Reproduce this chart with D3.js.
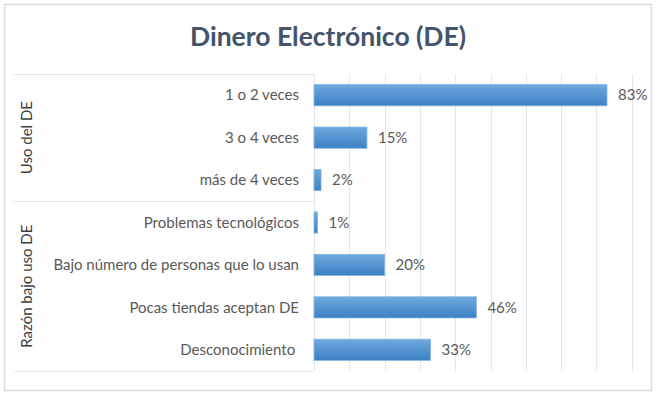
<!DOCTYPE html>
<html>
<head>
<meta charset="utf-8">
<script src="https://cdn.jsdelivr.net/npm/d3@7"></script>
<style>
  body { margin: 0; background: #fff; }
  svg text { font-family: Lato, "Open Sans", sans-serif; }
</style>
</head>
<body>
<svg id="chart" width="658" height="396"></svg>
<script>
// Dinero Electrónico: barras horizontales agrupadas en dos bloques

const groups = ['Uso del DE', 'Razón bajo uso DE'];
const categories = [
  '1 o 2 veces',
  '3 o 4 veces',
  'más de 4 veces',
  'Problemas tecnológicos',
  'Bajo número de personas que lo usan',
  'Pocas tiendas aceptan DE',
  'Desconocimiento ',
];
const groupOf = [0, 0, 0, 1, 1, 1, 1];
const values = [0.83, 0.15, 0.02, 0.01, 0.20, 0.46, 0.33];
const gridTicks = [0, 0.1, 0.2, 0.3, 0.4, 0.5, 0.6, 0.7, 0.8, 0.9];

const svg = d3.select('#chart');
const plot = { left: 314, right: 667, top: 74, bottom: 371 };
const catLeft = 14;

svg.append('rect')
  .attr('x', 4.5).attr('y', 4.5)
  .attr('width', 647).attr('height', 386)
  .attr('fill', '#fff')
  .attr('stroke', '#d9dce2')
  .attr('stroke-width', 1.5);

const x = d3.scaleLinear().domain([0, 1]).range([plot.left, plot.right]);
const y = d3.scaleBand()
  .domain(categories.map((_, i) => i))
  .range([plot.top, plot.bottom])
  .paddingInner(0.5)
  .paddingOuter(0.25);

// gradiente de las barras
const grad = svg.append('defs').append('linearGradient')
  .attr('id', 'barGrad')
  .attr('x1', 0).attr('y1', 0).attr('x2', 0).attr('y2', 1);
grad.append('stop').attr('offset', '0%').attr('stop-color', '#6fa9de');
grad.append('stop').attr('offset', '100%').attr('stop-color', '#3c81c3');

// líneas de rejilla verticales
svg.append('g')
  .selectAll('line')
  .data(gridTicks)
  .join('line')
  .attr('x1', (d) => Math.round(x(d)) + 0.5)
  .attr('x2', (d) => Math.round(x(d)) + 0.5)
  .attr('y1', plot.top)
  .attr('y2', plot.bottom)
  .attr('stroke', '#e4e6ec')
  .attr('stroke-width', 1);

// líneas horizontales del área de categorías
const step = y.step();
const sepLines = [plot.top, plot.top + step * 3, plot.bottom];
svg.append('g')
  .selectAll('line')
  .data(sepLines)
  .join('line')
  .attr('x1', catLeft)
  .attr('x2', plot.left)
  .attr('y1', (d) => Math.round(d) + 0.5)
  .attr('y2', (d) => Math.round(d) + 0.5)
  .attr('stroke', '#e4e6ec')
  .attr('stroke-width', 1);

// barras
svg.append('g')
  .selectAll('rect')
  .data(values)
  .join('rect')
  .attr('x', x(0))
  .attr('y', (_, i) => y(i))
  .attr('width', (d) => x(d) - x(0))
  .attr('height', y.bandwidth())
  .attr('fill', 'url(#barGrad)')
  .attr('stroke', '#86b6e4')
  .attr('stroke-width', 0.8);

// etiquetas de valor
svg.append('g')
  .selectAll('text')
  .data(values)
  .join('text')
  .attr('x', (d) => x(d) + 11)
  .attr('y', (_, i) => y(i) + y.bandwidth() / 2)
  .attr('dy', '0.35em')
  .attr('fill', '#595959')
  .style('font-size', '15px')
  .text((d) => d3.format('.0%')(d));

// etiquetas de categoría
svg.append('g')
  .selectAll('text')
  .data(categories)
  .join('text')
  .attr('x', 299)
  .attr('y', (_, i) => y(i) + y.bandwidth() / 2)
  .attr('dy', '0.35em')
  .attr('text-anchor', 'end')
  .attr('fill', '#595959')
  .style('font-size', '15px')
  .style('white-space', 'pre')
  .text((d) => d);

// etiquetas de grupo (verticales)
const groupSpans = groups.map((g, gi) => {
  const idx = groupOf.map((v, i) => (v === gi ? i : -1)).filter((i) => i >= 0);
  const top = plot.top + step * idx[0];
  const bottom = plot.top + step * (idx[idx.length - 1] + 1);
  return { label: g, mid: (top + bottom) / 2 };
});
svg.append('g')
  .selectAll('text')
  .data(groupSpans)
  .join('text')
  .attr('transform', (d) => `translate(27,${d.mid}) rotate(-90)`)
  .attr('dy', '0.35em')
  .attr('text-anchor', 'middle')
  .attr('fill', '#404040')
  .style('font-size', '15px')
  .text((d) => d.label);

// título
svg.append('text')
  .attr('x', 328)
  .attr('y', 46)
  .attr('text-anchor', 'middle')
  .attr('fill', '#44546a')
  .style('font-size', '26.5px')
  .style('font-weight', 'bold')
  .text('Dinero Electrónico (DE)');
</script>
</body>
</html>
